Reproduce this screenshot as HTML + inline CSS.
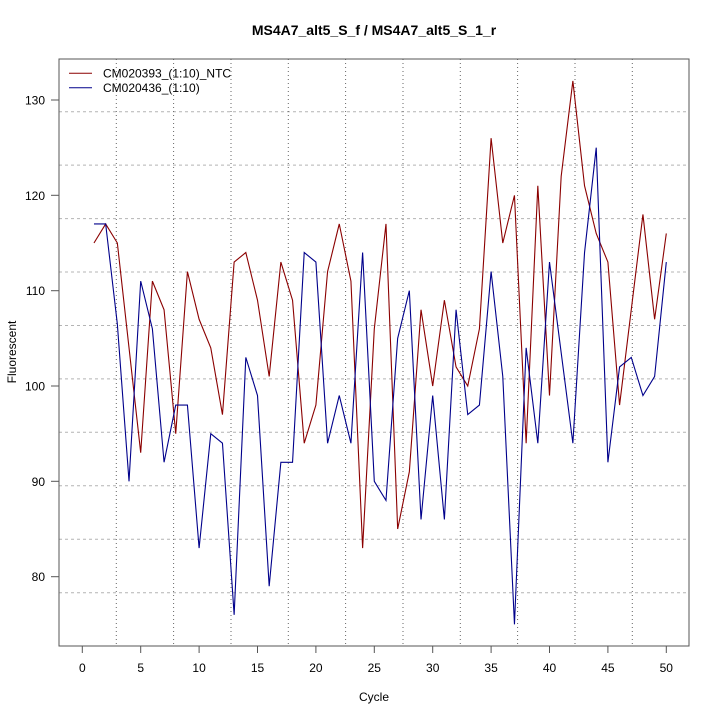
<!DOCTYPE html>
<html>
<head>
<meta charset="utf-8">
<style>
html,body{margin:0;padding:0;background:#fff;}
svg{display:block;}
text{font-family:"Liberation Sans",Arial,sans-serif;fill:#000;}
</style>
</head>
<body>
<svg width="720" height="720" viewBox="0 0 720 720" xmlns="http://www.w3.org/2000/svg">
<rect x="0" y="0" width="720" height="720" fill="#fff"/>
<!-- title -->
<text x="374" y="35" font-size="14" font-weight="bold" text-anchor="middle">MS4A7_alt5_S_f / MS4A7_alt5_S_1_r</text>
<!-- horizontal dashed grid -->
<g stroke="#b4b4b4" stroke-width="1" stroke-dasharray="3,3" fill="none">
<line x1="59" x2="689" y1="111.7" y2="111.7"/>
<line x1="59" x2="689" y1="165.1" y2="165.1"/>
<line x1="59" x2="689" y1="218.6" y2="218.6"/>
<line x1="59" x2="689" y1="272.0" y2="272.0"/>
<line x1="59" x2="689" y1="325.5" y2="325.5"/>
<line x1="59" x2="689" y1="378.9" y2="378.9"/>
<line x1="59" x2="689" y1="432.3" y2="432.3"/>
<line x1="59" x2="689" y1="485.8" y2="485.8"/>
<line x1="59" x2="689" y1="539.2" y2="539.2"/>
<line x1="59" x2="689" y1="592.7" y2="592.7"/>
</g>
<!-- vertical dotted grid -->
<g stroke="#666" stroke-width="1" stroke-dasharray="1,3" fill="none">
<line y1="59" y2="646" x1="116.3" x2="116.3"/>
<line y1="59" y2="646" x1="173.6" x2="173.6"/>
<line y1="59" y2="646" x1="231.0" x2="231.0"/>
<line y1="59" y2="646" x1="288.3" x2="288.3"/>
<line y1="59" y2="646" x1="345.6" x2="345.6"/>
<line y1="59" y2="646" x1="403.0" x2="403.0"/>
<line y1="59" y2="646" x1="460.3" x2="460.3"/>
<line y1="59" y2="646" x1="517.6" x2="517.6"/>
<line y1="59" y2="646" x1="575.0" x2="575.0"/>
<line y1="59" y2="646" x1="632.3" x2="632.3"/>
</g>
<defs><clipPath id="c"><rect x="59" y="59" width="630" height="587"/></clipPath></defs>
<g clip-path="url(#c)">
<g transform="matrix(11.68 0 0 -9.533 82.3 1339.3)" fill="none">
<polyline vector-effect="non-scaling-stroke" stroke="#8b0000" stroke-width="1.1" points="1,115 2,117 3,115 4,104 5,93 6,111 7,108 8,95 9,112 10,107 11,104 12,97 13,113 14,114 15,109 16,101 17,113 18,109 19,94 20,98 21,112 22,117 23,111 24,83 25,106 26,117 27,85 28,91 29,108 30,100 31,109 32,102 33,100 34,106 35,126 36,115 37,120 38,94 39,121 40,99 41,122 42,132 43,121 44,116 45,113 46,98 47,108 48,118 49,107 50,116"/>
<polyline vector-effect="non-scaling-stroke" stroke="#00008b" stroke-width="1.1" points="1,117 2,117 3,106.5 4,90 5,111 6,106 7,92 8,98 9,98 10,83 11,95 12,94 13,76 14,103 15,99 16,79 17,92 18,92 19,114 20,113 21,94 22,99 23,94 24,114 25,90 26,88 27,105 28,110 29,86 30,99 31,86 32,108 33,97 34,98 35,112 36,101 37,75 38,104 39,94 40,113 41,103.5 42,94 43,114 44,125 45,92 46,102 47,103 48,99 49,101 50,113"/>
</g>
</g>
<!-- box -->
<rect x="59" y="59" width="630" height="587" fill="none" stroke="#555" stroke-width="1"/>
<!-- y axis ticks -->
<g stroke="#555" stroke-width="1">
<line x1="51" x2="59" y1="100" y2="100"/>
<line x1="51" x2="59" y1="195.3" y2="195.3"/>
<line x1="51" x2="59" y1="290.7" y2="290.7"/>
<line x1="51" x2="59" y1="386" y2="386"/>
<line x1="51" x2="59" y1="481.3" y2="481.3"/>
<line x1="51" x2="59" y1="576.7" y2="576.7"/>
</g>
<g font-size="12" text-anchor="end">
<text x="45" y="104.5">130</text>
<text x="45" y="199.8">120</text>
<text x="45" y="295.2">110</text>
<text x="45" y="390.5">100</text>
<text x="45" y="485.8">90</text>
<text x="45" y="581.2">80</text>
</g>
<!-- x axis ticks -->
<g stroke="#555" stroke-width="1">
<line y1="646" y2="653" x1="82.3" x2="82.3"/>
<line y1="646" y2="653" x1="140.7" x2="140.7"/>
<line y1="646" y2="653" x1="199.1" x2="199.1"/>
<line y1="646" y2="653" x1="257.5" x2="257.5"/>
<line y1="646" y2="653" x1="315.9" x2="315.9"/>
<line y1="646" y2="653" x1="374.3" x2="374.3"/>
<line y1="646" y2="653" x1="432.7" x2="432.7"/>
<line y1="646" y2="653" x1="491.1" x2="491.1"/>
<line y1="646" y2="653" x1="549.5" x2="549.5"/>
<line y1="646" y2="653" x1="607.9" x2="607.9"/>
<line y1="646" y2="653" x1="666.3" x2="666.3"/>
</g>
<g font-size="12" text-anchor="middle">
<text x="82.3" y="672">0</text>
<text x="140.7" y="672">5</text>
<text x="199.1" y="672">10</text>
<text x="257.5" y="672">15</text>
<text x="315.9" y="672">20</text>
<text x="374.3" y="672">25</text>
<text x="432.7" y="672">30</text>
<text x="491.1" y="672">35</text>
<text x="549.5" y="672">40</text>
<text x="607.9" y="672">45</text>
<text x="666.3" y="672">50</text>
</g>
<!-- axis labels -->
<text x="374" y="701" font-size="12" text-anchor="middle">Cycle</text>
<text x="0" y="0" font-size="12" text-anchor="middle" transform="translate(16,352) rotate(-90)">Fluorescent</text>
<!-- legend -->
<line x1="69" x2="92" y1="73.3" y2="73.3" stroke="#8b0000" stroke-width="1"/>
<line x1="69" x2="92" y1="87.7" y2="87.7" stroke="#00008b" stroke-width="1"/>
<text x="103" y="77.5" font-size="12">CM020393_(1:10)_NTC</text>
<text x="103" y="92" font-size="12">CM020436_(1:10)</text>
</svg>
</body>
</html>
